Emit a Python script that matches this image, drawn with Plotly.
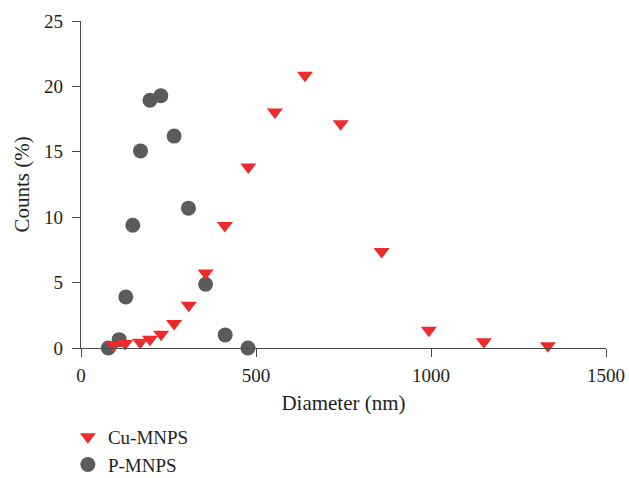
import plotly.graph_objects as go

cu_x = [94, 126, 169, 197, 229, 266, 308, 356, 411, 478, 554, 640, 742, 859, 994, 1151, 1334]
cu_y = [0.2, 0.34, 0.44, 0.66, 1.06, 1.87, 3.26, 5.73, 9.37, 13.83, 18.04, 20.85, 17.15, 7.37, 1.36, 0.47, 0.18]

p_x = [78, 109, 128, 148, 170, 197, 228, 266, 307, 356, 412, 477]
p_y = [0.0, 0.64, 3.9, 9.39, 15.07, 18.94, 19.28, 16.2, 10.69, 4.87, 1.0, 0.0]

x_ticks = [0, 500, 1000, 1500]
y_ticks = [0, 5, 10, 15, 20, 25]

FONT = "Liberation Serif"
TXT = "#231F20"
AX = "#4a4a4a"

fig = go.Figure()
fig.add_trace(go.Scatter(
    x=p_x, y=p_y, mode="markers", name="P-MNPS", legendgroup="p", legendrank=2,
    marker=dict(symbol="circle", size=15, color="#5B5B5D"), cliponaxis=False))
fig.add_trace(go.Scatter(
    x=cu_x, y=cu_y, mode="markers", name="Cu-MNPS", legendgroup="cu", legendrank=1,
    marker=dict(symbol="triangle-down", size=14, color="#EE2A2A"), cliponaxis=False))

axis_common = dict(
    showgrid=False, zeroline=False, showline=True, linecolor=AX, linewidth=1.3,
    ticks="outside", ticklen=8, tickwidth=1.3, tickcolor=AX,
    tickfont=dict(family=FONT, size=19, color=TXT), automargin=False,
)

fig.update_layout(
    width=629, height=478,
    margin=dict(l=81, r=23, t=21, b=130, autoexpand=False),
    paper_bgcolor="white", plot_bgcolor="white",
    font=dict(family=FONT, color=TXT),
    xaxis=dict(range=[0, 1500], tickvals=x_ticks, ticklabelstandoff=2,
               title=dict(text="Diameter (nm)", font=dict(family=FONT, size=21, color=TXT), standoff=10),
               **axis_common),
    yaxis=dict(range=[0, 25], tickvals=y_ticks, ticklabelstandoff=5,
               title=dict(text="Counts (%)", font=dict(family=FONT, size=21, color=TXT), standoff=8),
               **axis_common),
    showlegend=True,
    legend=dict(x=-0.025, y=-0.214, xanchor="left", yanchor="top",
                font=dict(family=FONT, size=19, color=TXT),
                traceorder="grouped", tracegroupgap=0, bgcolor="rgba(0,0,0,0)"),
)

fig.write_html("out.html")
